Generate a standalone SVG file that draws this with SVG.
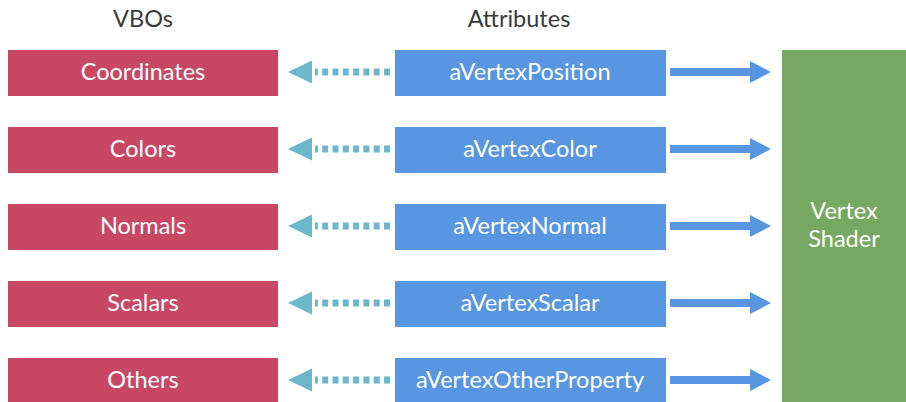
<svg xmlns="http://www.w3.org/2000/svg" width="906" height="402" viewBox="0 0 906 402">
<defs>
<style>
text{font-family:Lato,"Open Sans","Liberation Sans",sans-serif;font-size:23.5px;text-anchor:middle}
.t{fill:#fff}
.h{fill:#3a3a3a}
.vbo{fill:#c84864}
.attr{fill:#5896e2}
.sh{fill:#77a862}
.dash{stroke:#6cb7cc;stroke-width:7;stroke-dasharray:6 4.3;fill:none}
.dh{fill:#6cb7cc}
.sol{stroke:#5896e2;stroke-width:8;fill:none}
.sh2{fill:#5896e2}
</style>
</defs>
<text class="h" x="143" y="27">VBOs</text>
<text class="h" x="519" y="27">Attributes</text>
<g id="vbo-coordinates"><rect class="vbo" x="8" y="50" width="270" height="46"/><text class="t" x="143" y="80">Coordinates</text></g>
<g id="vbo-colors"><rect class="vbo" x="8" y="127" width="270" height="46"/><text class="t" x="143" y="157">Colors</text></g>
<g id="vbo-normals"><rect class="vbo" x="8" y="204" width="270" height="46"/><text class="t" x="143" y="234">Normals</text></g>
<g id="vbo-scalars"><rect class="vbo" x="8" y="281" width="270" height="46"/><text class="t" x="143" y="311">Scalars</text></g>
<g id="vbo-others"><rect class="vbo" x="8" y="358" width="270" height="46"/><text class="t" x="143" y="388">Others</text></g>
<g id="attr-position"><rect class="attr" x="395" y="50" width="271" height="46"/><text class="t" x="530" y="80">aVertexPosition</text></g>
<g id="attr-color"><rect class="attr" x="395" y="127" width="271" height="46"/><text class="t" x="530" y="157">aVertexColor</text></g>
<g id="attr-normal"><rect class="attr" x="395" y="204" width="271" height="46"/><text class="t" x="530" y="234">aVertexNormal</text></g>
<g id="attr-scalar"><rect class="attr" x="395" y="281" width="271" height="46"/><text class="t" x="530" y="311">aVertexScalar</text></g>
<g id="attr-other"><rect class="attr" x="395" y="358" width="271" height="46"/><text class="t" x="530" y="388">aVertexOtherProperty</text></g>
<g id="vertex-shader"><rect class="sh" x="782" y="50" width="124" height="354"/><text class="t" x="844" y="219">Vertex</text><text class="t" x="844" y="247">Shader</text></g>
<g id="connectors">
<g><path class="dash" d="M390 72H315"/><path class="dh" d="M288 72L312 60.5V83.5Z"/><path class="sol" d="M670 72H751"/><path class="sh2" d="M750 61L771 72L750 83Z"/></g>
<g transform="translate(0,77)"><path class="dash" d="M390 72H315"/><path class="dh" d="M288 72L312 60.5V83.5Z"/><path class="sol" d="M670 72H751"/><path class="sh2" d="M750 61L771 72L750 83Z"/></g>
<g transform="translate(0,154)"><path class="dash" d="M390 72H315"/><path class="dh" d="M288 72L312 60.5V83.5Z"/><path class="sol" d="M670 72H751"/><path class="sh2" d="M750 61L771 72L750 83Z"/></g>
<g transform="translate(0,231)"><path class="dash" d="M390 72H315"/><path class="dh" d="M288 72L312 60.5V83.5Z"/><path class="sol" d="M670 72H751"/><path class="sh2" d="M750 61L771 72L750 83Z"/></g>
<g transform="translate(0,308)"><path class="dash" d="M390 72H315"/><path class="dh" d="M288 72L312 60.5V83.5Z"/><path class="sol" d="M670 72H751"/><path class="sh2" d="M750 61L771 72L750 83Z"/></g>
</g>
</svg>
